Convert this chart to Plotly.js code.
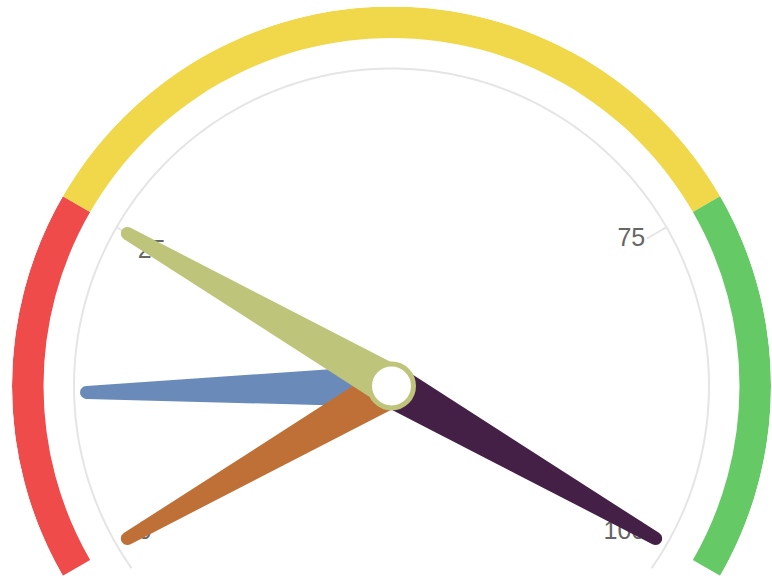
<!DOCTYPE html>
<html>
<head>
<meta charset="utf-8">
<script src="https://cdn.plot.ly/plotly-3.0.1.min.js"></script>
<style>
html,body{margin:0;padding:0;overflow:hidden;background:#ffffff;}
#chart{width:772px;height:766px;}
</style>
</head>
<body>
<div id="chart"></div>
<script>
// ---- data ----
const axisMin = 0;
const axisMax = 100;
const bandStops = [25, 75, 100];
const bandColors = ['#F04B4B', '#F1D84B', '#65C966'];
const tickValues = [25, 75];
const labelValues = [0, 25, 75, 100];
const labelTexts = ['0', '25', '75', '100'];
const needleValues = [100, 12, 0, 25];
const needleColors = ['#452046', '#6A8BBA', '#BE7037', '#BEC47A'];
const hubColor = '#BEC47A';

// ---- styling / geometry ----
const SPAN = 240;            // degrees covered by the scale
const AXIS_OVERHANG = 5;     // gray axis arc extends a little past the ends
const R_OUT = 379.5;         // radial range (1 unit ~ 1 px)
const BAND_IN = 348;
const AXIS_R = 317.5;
const TICK_IN = 295;
const LABEL_R = 293;
const NEEDLE_LEN = 305;
const NEEDLE_BASE = 21;
const NEEDLE_TIP = 6.5;
const GRAY = '#e5e5e5';

const toTheta = v => (v - axisMin) / (axisMax - axisMin) * SPAN;
const deg = x => x * 180 / Math.PI;

const traces = [];

// colour band
const bTheta = [], bWidth = [], bR = [], bBase = [];
let prev = axisMin;
bandStops.forEach(s => {
  bTheta.push(toTheta((prev + s) / 2));
  bWidth.push(toTheta(s) - toTheta(prev));
  bR.push(R_OUT - BAND_IN);
  bBase.push(BAND_IN);
  prev = s;
});
traces.push({
  type: 'barpolar', r: bR, base: bBase, theta: bTheta, width: bWidth,
  marker: {color: bandColors, line: {width: 0}}, hoverinfo: 'skip'
});

// gray axis arc
const arcR = [], arcT = [];
for (let a = -AXIS_OVERHANG; a <= SPAN + AXIS_OVERHANG; a += 1) { arcR.push(AXIS_R); arcT.push(a); }
traces.push({
  type: 'scatterpolar', mode: 'lines', r: arcR, theta: arcT,
  line: {color: GRAY, width: 2}, hoverinfo: 'skip'
});

// split ticks
const tr = [], tt = [];
tickValues.forEach(v => { tr.push(TICK_IN, AXIS_R, null); tt.push(toTheta(v), toTheta(v), null); });
traces.push({
  type: 'scatterpolar', mode: 'lines', r: tr, theta: tt,
  line: {color: GRAY, width: 2}, hoverinfo: 'skip'
});

// labels
traces.push({
  type: 'scatterpolar', mode: 'text',
  r: labelValues.map(() => LABEL_R), theta: labelValues.map(toTheta),
  text: labelTexts,
  textposition: ['middle right', 'bottom right', 'middle left', 'middle left'],
  textfont: {family: 'Liberation Sans, Arial, sans-serif', size: 25, color: '#666666'},
  cliponaxis: false, hoverinfo: 'skip'
});

// needles
function needle(v, color) {
  const c = toTheta(v);
  const r = [], t = [];
  const add = (a, p) => { r.push(Math.hypot(a, p)); t.push(c + deg(Math.atan2(p, a))); };
  add(0, NEEDLE_BASE);
  for (let i = 0; i <= 12; i++) {
    const phi = Math.PI / 2 - i * Math.PI / 12;
    add(NEEDLE_LEN + NEEDLE_TIP * Math.cos(phi), NEEDLE_TIP * Math.sin(phi));
  }
  add(0, -NEEDLE_BASE);
  add(0, NEEDLE_BASE);
  return {
    type: 'scatterpolar', mode: 'lines', r: r, theta: t, fill: 'toself',
    fillcolor: color, line: {color: color, width: 0}, hoverinfo: 'skip'
  };
}
needleValues.forEach((v, i) => traces.push(needle(v, needleColors[i])));

// hub
traces.push({
  type: 'scatterpolar', mode: 'markers', r: [0], theta: [0],
  marker: {size: 44, color: '#ffffff', line: {color: hubColor, width: 5}},
  cliponaxis: false, hoverinfo: 'skip'
});

const layout = {
  width: 772, height: 766,
  margin: {l: 12, r: 1, t: 6, b: 0, pad: 0},
  paper_bgcolor: '#ffffff',
  showlegend: false,
  polar: {
    domain: {x: [0, 1], y: [0, 1]},
    bgcolor: 'rgba(0,0,0,0)',
    bargap: 0,
    radialaxis: {
      range: [0, R_OUT], showticklabels: false, ticks: '',
      showline: false, showgrid: false
    },
    angularaxis: {
      rotation: 210, direction: 'clockwise',
      showgrid: false, showline: false, showticklabels: false, ticks: ''
    }
  }
};

Plotly.newPlot('chart', traces, layout, {displayModeBar: false, staticPlot: true});
</script>
</body>
</html>
